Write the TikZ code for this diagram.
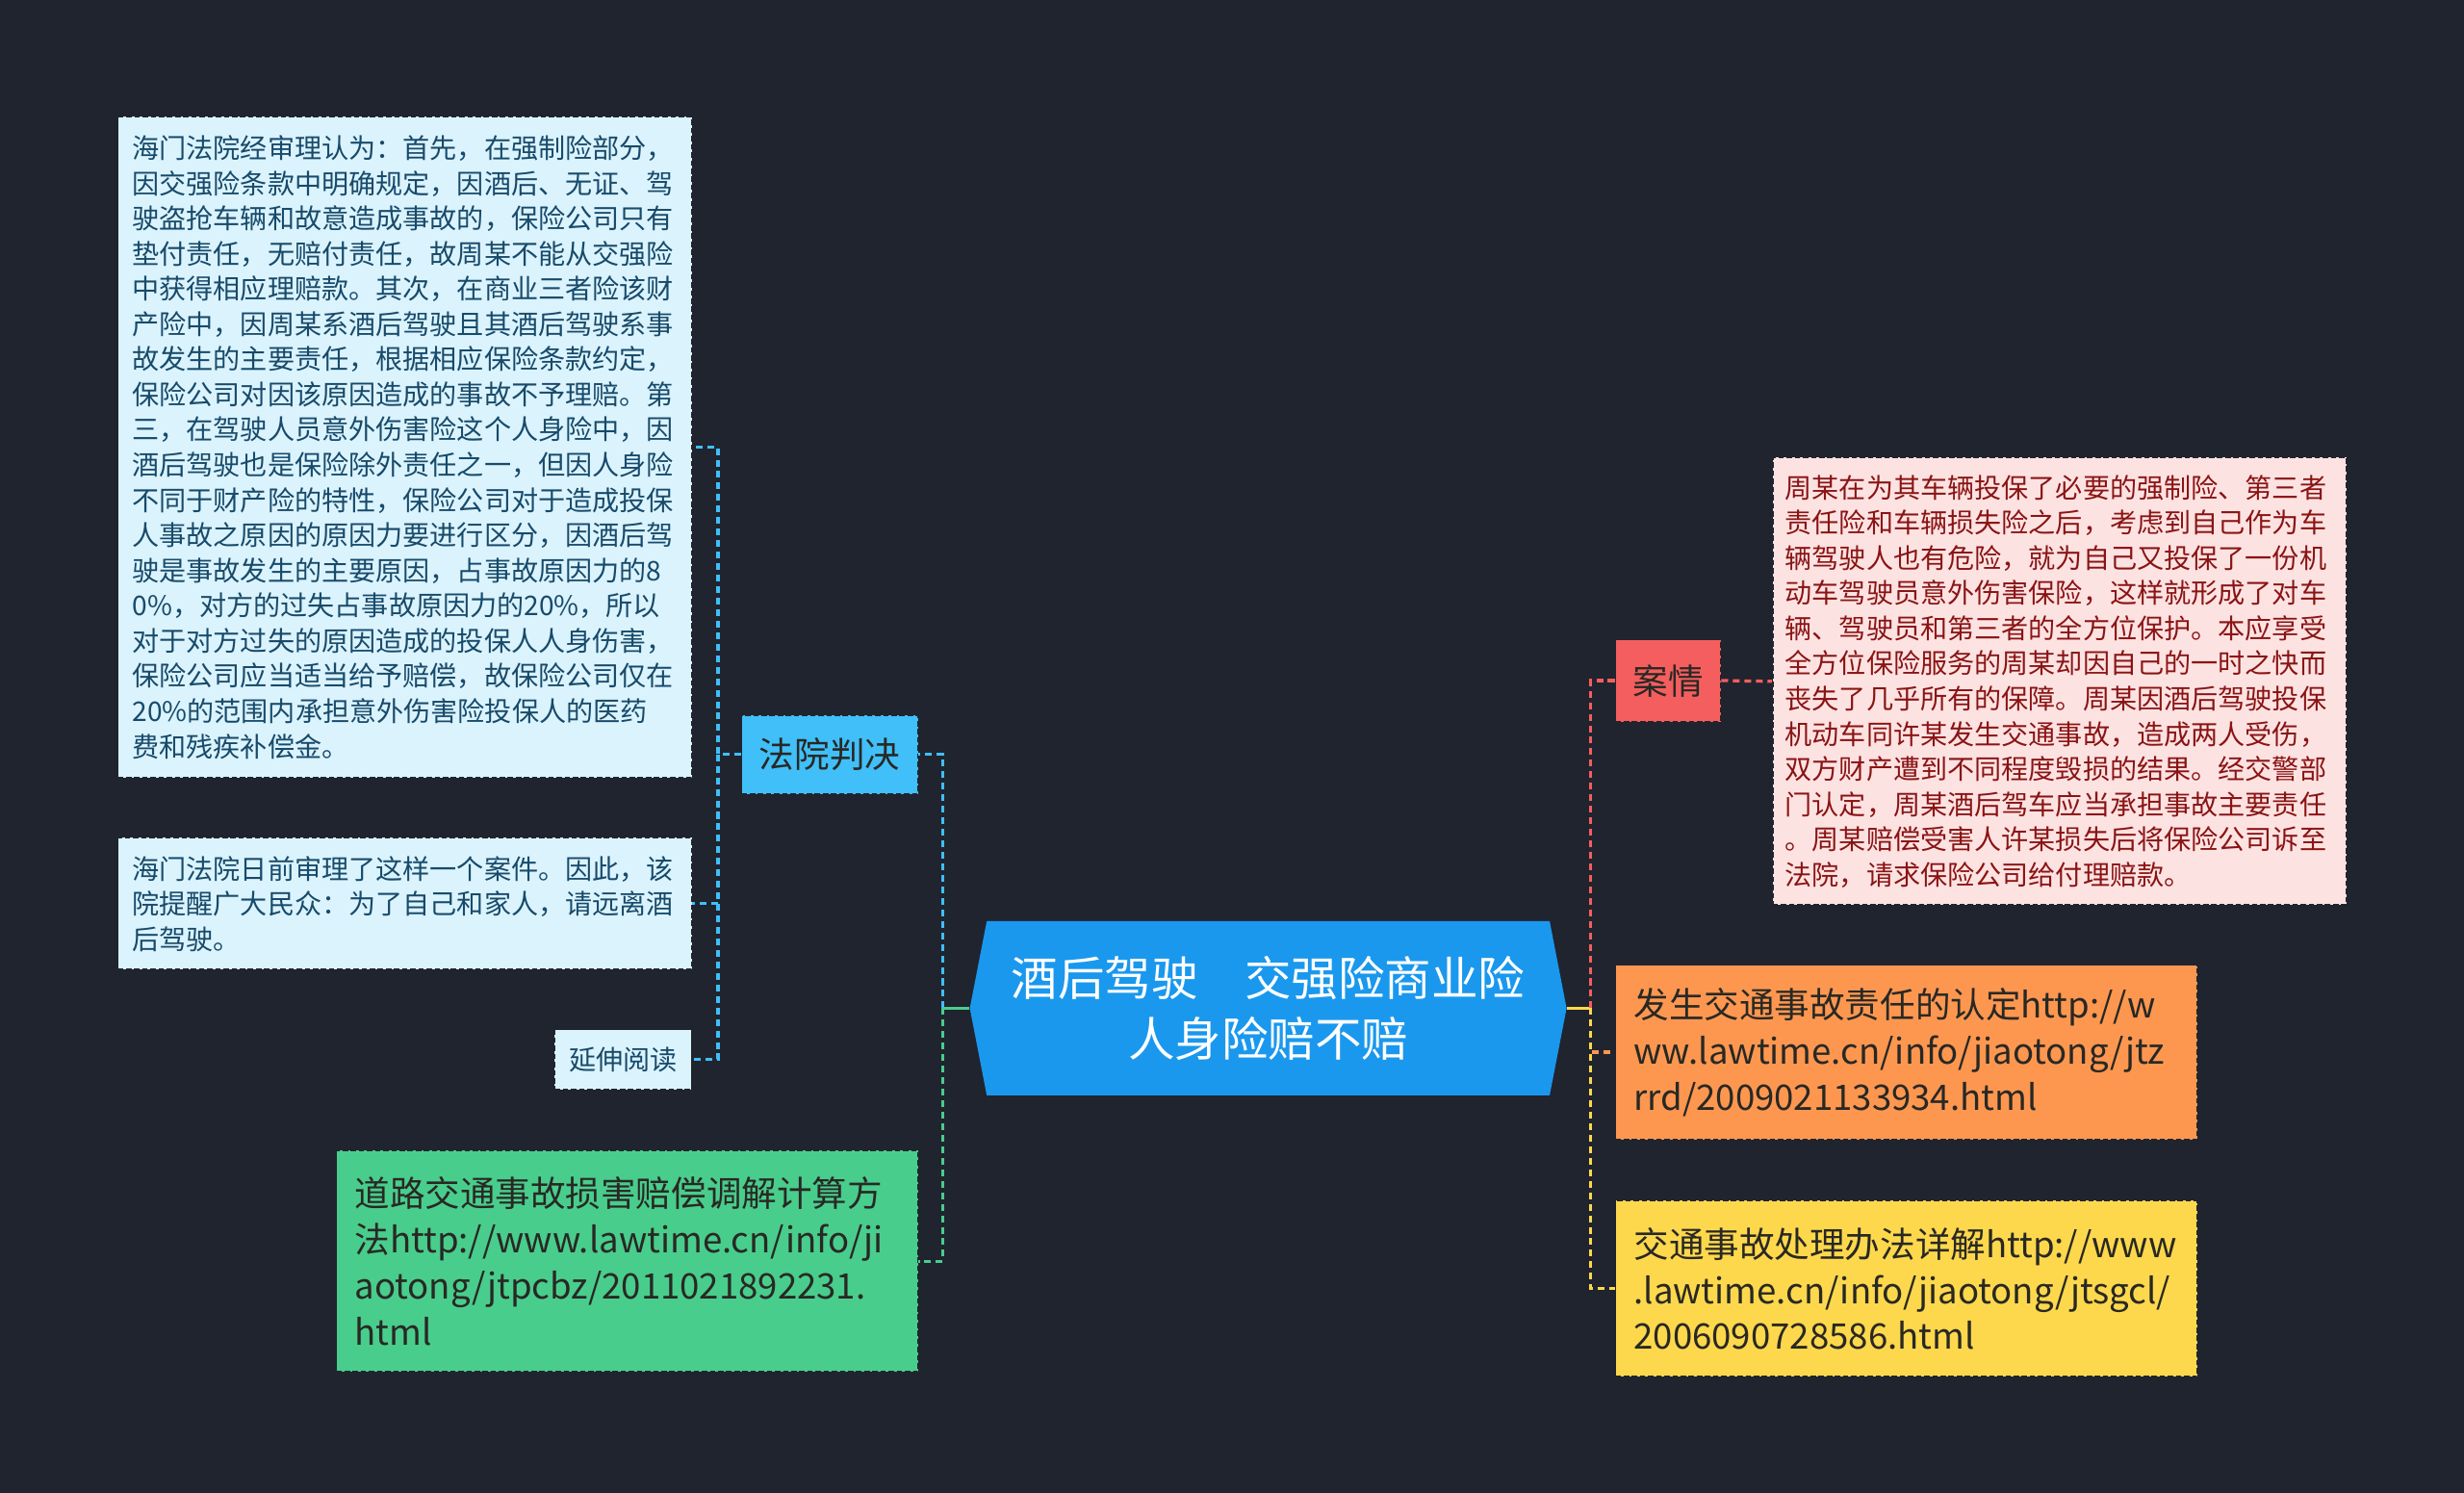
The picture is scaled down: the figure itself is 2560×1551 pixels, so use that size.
\documentclass[tikz,border=0pt]{standalone}
\usepackage{fontspec}
\setmainfont{Noto Sans CJK SC}
\definecolor{bgdark}{RGB}{32, 36, 47}
\definecolor{rootblue}{RGB}{26, 152, 238}
\definecolor{courtblue}{RGB}{64, 191, 249}
\definecolor{leafblue}{RGB}{218, 243, 253}
\definecolor{leafink}{RGB}{24, 74, 106}
\definecolor{casered}{RGB}{245, 94, 94}
\definecolor{storypink}{RGB}{253, 226, 226}
\definecolor{storyink}{RGB}{138, 20, 20}
\definecolor{lawgreen}{RGB}{73, 205, 140}
\definecolor{laworange}{RGB}{253, 151, 80}
\definecolor{lawyellow}{RGB}{254, 216, 76}
\definecolor{darkink}{RGB}{40, 40, 36}
\usepackage{tikz}
\usetikzlibrary{shapes.symbols, positioning}
\newlength{\unitpx}
\setlength{\unitpx}{0.025cm}
\tikzset{
    box/.style={rectangle, draw=bgdark, dashed, dash pattern=on 4pt off 2pt, line width=1.2pt, inner sep=0pt, align=left},
    leafbox/.style={box, fill=leafblue, text=leafink, font=\fontsize{20}{26}\selectfont},
    storybox/.style={box, fill=storypink, text=storyink, font=\fontsize{20}{26}\selectfont},
    linkbox/.style={box, text=darkink, minimum width=604*\unitpx, text width=566*\unitpx, font=\fontsize{26}{34}\selectfont},
    topicbox/.style={box, align=center, text=darkink, font=\fontsize{26}{30}\selectfont},
    rootnode/.style={signal, signal to=west and east, signal pointer angle=158, fill=rootblue, text=white, inner sep=0pt, align=center, minimum width=620*\unitpx, minimum height=181*\unitpx, font=\fontsize{34.5}{45}\selectfont},
    branch/.style={line width=2.3pt, dash pattern=on 5pt off 3.5pt},
    stub/.style={line width=2.3pt},
}

\begin{document}
\begin{tikzpicture}[x=\unitpx, y=-\unitpx]
    % Background
    \fill[bgdark] (0,0) rectangle (2560,1551);

    % Root
    \node[rootnode] (root) at (1317.6,1047.4) {酒后驾驶　交强险商业险\\人身险赔不赔};

    % Left branch
    \node[topicbox, fill=courtblue, minimum width=183*\unitpx, minimum height=82*\unitpx] (court) at (862,783.7) {法院判决};
    \node[leafbox, minimum width=596*\unitpx, minimum height=687*\unitpx, text width=566*\unitpx] (verdict) at (420.5,464.5) {
        海门法院经审理认为：首先，在强制险部分，\\
        因交强险条款中明确规定，因酒后、无证、驾\\
        驶盗抢车辆和故意造成事故的，保险公司只有\\
        垫付责任，无赔付责任，故周某不能从交强险\\
        中获得相应理赔款。其次，在商业三者险该财\\
        产险中，因周某系酒后驾驶且其酒后驾驶系事\\
        故发生的主要责任，根据相应保险条款约定，\\
        保险公司对因该原因造成的事故不予理赔。第\\
        三，在驾驶人员意外伤害险这个人身险中，因\\
        酒后驾驶也是保险除外责任之一，但因人身险\\
        不同于财产险的特性，保险公司对于造成投保\\
        人事故之原因的原因力要进行区分，因酒后驾\\
        驶是事故发生的主要原因，占事故原因力的8\\
        0\%，对方的过失占事故原因力的20\%，所以\\
        对于对方过失的原因造成的投保人人身伤害，\\
        保险公司应当适当给予赔偿，故保险公司仅在\\
        20\%的范围内承担意外伤害险投保人的医药\\
        费和残疾补偿金。};
    \node[leafbox, minimum width=596*\unitpx, minimum height=137*\unitpx, text width=566*\unitpx] (notice) at (420.5,938.8) {
        海门法院日前审理了这样一个案件。因此，该\\
        院提醒广大民众：为了自己和家人，请远离酒\\
        后驾驶。};
    \node[leafbox, align=center, minimum width=142*\unitpx, minimum height=62*\unitpx] (more) at (647.4,1100.5) {延伸阅读};
    \node[linkbox, fill=lawgreen, minimum height=230*\unitpx] (road) at (651.5,1310.2) {
        道路交通事故损害赔偿调解计算方\\
        法http://www.lawtime.cn/info/ji\\
        aotong/jtpcbz/2011021892231.\\
        html};

    % Right branch
    \node[topicbox, fill=casered, minimum width=109*\unitpx, minimum height=85*\unitpx] (case) at (1733.1,707) {案情};
    \node[storybox, minimum width=596*\unitpx, minimum height=465*\unitpx, text width=570*\unitpx] (story) at (2139.7,707.8) {
        周某在为其车辆投保了必要的强制险、第三者\\
        责任险和车辆损失险之后，考虑到自己作为车\\
        辆驾驶人也有危险，就为自己又投保了一份机\\
        动车驾驶员意外伤害保险，这样就形成了对车\\
        辆、驾驶员和第三者的全方位保护。本应享受\\
        全方位保险服务的周某却因自己的一时之快而\\
        丧失了几乎所有的保障。周某因酒后驾驶投保\\
        机动车同许某发生交通事故，造成两人受伤，\\
        双方财产遭到不同程度毁损的结果。经交警部\\
        门认定，周某酒后驾车应当承担事故主要责任\\
        。周某赔偿受害人许某损失后将保险公司诉至\\
        法院，请求保险公司给付理赔款。};
    \node[linkbox, fill=laworange, minimum height=181*\unitpx] (law1) at (1980.5,1093.1) {
        发生交通事故责任的认定http://w\\
        ww.lawtime.cn/info/jiaotong/jtz\\
        rrd/2009021133934.html};
    \node[linkbox, fill=lawyellow, minimum height=183*\unitpx] (law2) at (1980.5,1338.8) {
        交通事故处理办法详解http://www\\
        .lawtime.cn/info/jiaotong/jtsgcl/\\
        2006090728586.html};

    % Trunks
    \coordinate (ltrunk) at (979.6,1047.4);
    \coordinate (ctrunk) at (746.1,783.7);
    \coordinate (rtrunk) at (1652.3,1047.4);

    % Connectors
    \draw[stub, draw=lawgreen] (root.west) -- (ltrunk);
    \draw[branch, draw=courtblue] (ltrunk) |- (court.east);
    \draw[branch, draw=lawgreen] (ltrunk) |- (road.east);
    \draw[branch, draw=courtblue] (court.west) -- (ctrunk) |- (verdict.east);
    \draw[branch, draw=courtblue] (ctrunk) |- (notice.east);
    \draw[branch, draw=courtblue] (ctrunk) |- (more.east);
    \draw[stub, draw=lawyellow] (root.east) -- (rtrunk);
    \draw[branch, draw=casered] (rtrunk) |- (case.west);
    \draw[branch, draw=casered] (case.east) -- (story.west);
    \draw[branch, draw=laworange] (rtrunk) |- (law1.west);
    \draw[branch, draw=lawyellow] (rtrunk) |- (law2.west);
\end{tikzpicture}
\end{document}
